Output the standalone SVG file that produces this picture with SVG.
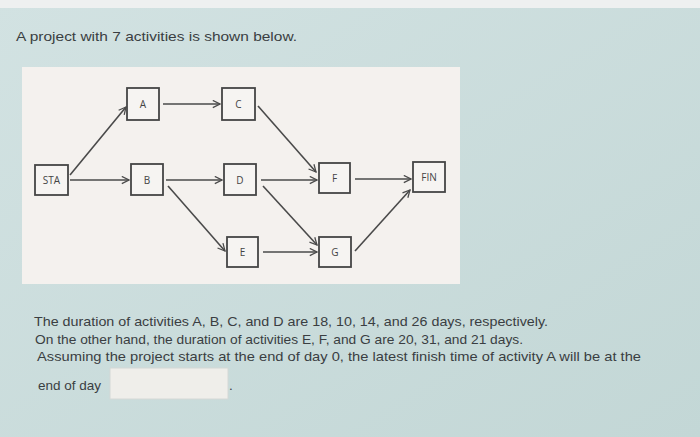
<svg xmlns="http://www.w3.org/2000/svg" width="700" height="437" viewBox="0 0 700 437">
<defs>
<style>
.t{font-family:"Liberation Sans",Arial,sans-serif;font-size:13.5px;fill:#3a3e42}
.n rect{fill:#f6f4f2;stroke:#454545;stroke-width:1.8}
.n text{font-family:"Open Sans","Liberation Sans",sans-serif;font-size:10px;fill:#444;text-anchor:middle}
#edges line{stroke:#4a4a4a;stroke-width:1.6;marker-end:url(#ah)}
</style>
<marker id="ah" viewBox="0 0 10 10" refX="9" refY="5" markerWidth="9" markerHeight="9" orient="auto" markerUnits="userSpaceOnUse">
<path d="M1,1 L9,5 L1,9" fill="none" stroke="#4a4a4a" stroke-width="1.4"/>
</marker>
<linearGradient id="bg" x1="0" y1="0" x2="1" y2="1">
<stop offset="0" stop-color="#d2e2e2"/><stop offset="1" stop-color="#c3d7d6"/>
</linearGradient>
</defs>
<rect width="700" height="437" fill="url(#bg)"/>
<rect width="700" height="8" fill="#eef0f0"/>
<text class="t" x="16" y="41" font-size="15" textLength="281" lengthAdjust="spacingAndGlyphs">A project with 7 activities is shown below.</text>
<rect x="22" y="67" width="438" height="217" fill="#f4f1ee"/>
<g id="edges">
<line x1="70" y1="175" x2="126" y2="107"/>
<line x1="70" y1="180" x2="129" y2="180"/>
<line x1="163" y1="104" x2="220" y2="104"/>
<line x1="258" y1="106" x2="316" y2="172"/>
<line x1="166" y1="180" x2="222" y2="180"/>
<line x1="168" y1="186" x2="225" y2="251"/>
<line x1="261" y1="180" x2="317" y2="180"/>
<line x1="263" y1="186" x2="317" y2="245"/>
<line x1="263" y1="252" x2="317" y2="252"/>
<line x1="355" y1="179" x2="411" y2="179"/>
<line x1="355" y1="251" x2="410" y2="190"/>
</g>
<g id="STA" class="n"><rect x="35" y="165" width="33" height="30"/><text x="51.5" y="184">STA</text></g>
<g id="A" class="n"><rect x="127" y="88" width="32" height="32"/><text x="143" y="108">A</text></g>
<g id="C" class="n"><rect x="222" y="88" width="33" height="32"/><text x="238.5" y="108">C</text></g>
<g id="B" class="n"><rect x="131" y="164" width="32" height="31"/><text x="147" y="184">B</text></g>
<g id="D" class="n"><rect x="224" y="164" width="32" height="31"/><text x="240" y="184">D</text></g>
<g id="F" class="n"><rect x="319" y="163" width="31" height="30"/><text x="334.5" y="182">F</text></g>
<g id="FIN" class="n"><rect x="413" y="162" width="32" height="30"/><text x="429" y="181">FIN</text></g>
<g id="E" class="n"><rect x="227" y="237" width="31" height="30"/><text x="242.5" y="256">E</text></g>
<g id="G" class="n"><rect x="319" y="237" width="32" height="30"/><text x="335" y="256">G</text></g>
<text class="t" x="34" y="326" textLength="514" lengthAdjust="spacingAndGlyphs">The duration of activities A, B, C, and D are 18, 10, 14, and 26 days, respectively.</text>
<text class="t" x="35" y="344" textLength="488" lengthAdjust="spacingAndGlyphs">On the other hand, the duration of activities E, F, and G are 20, 31, and 21 days.</text>
<text class="t" x="37" y="361" textLength="604" lengthAdjust="spacingAndGlyphs">Assuming the project starts at the end of day 0, the latest finish time of activity A will be at the</text>
<text class="t" x="38" y="390">end of day</text>
<rect x="110" y="368" width="118" height="31" fill="#efeeea" stroke="#d4d8d6" stroke-width="1"/>
<text class="t" x="229" y="390" font-size="8">.</text>
</svg>
